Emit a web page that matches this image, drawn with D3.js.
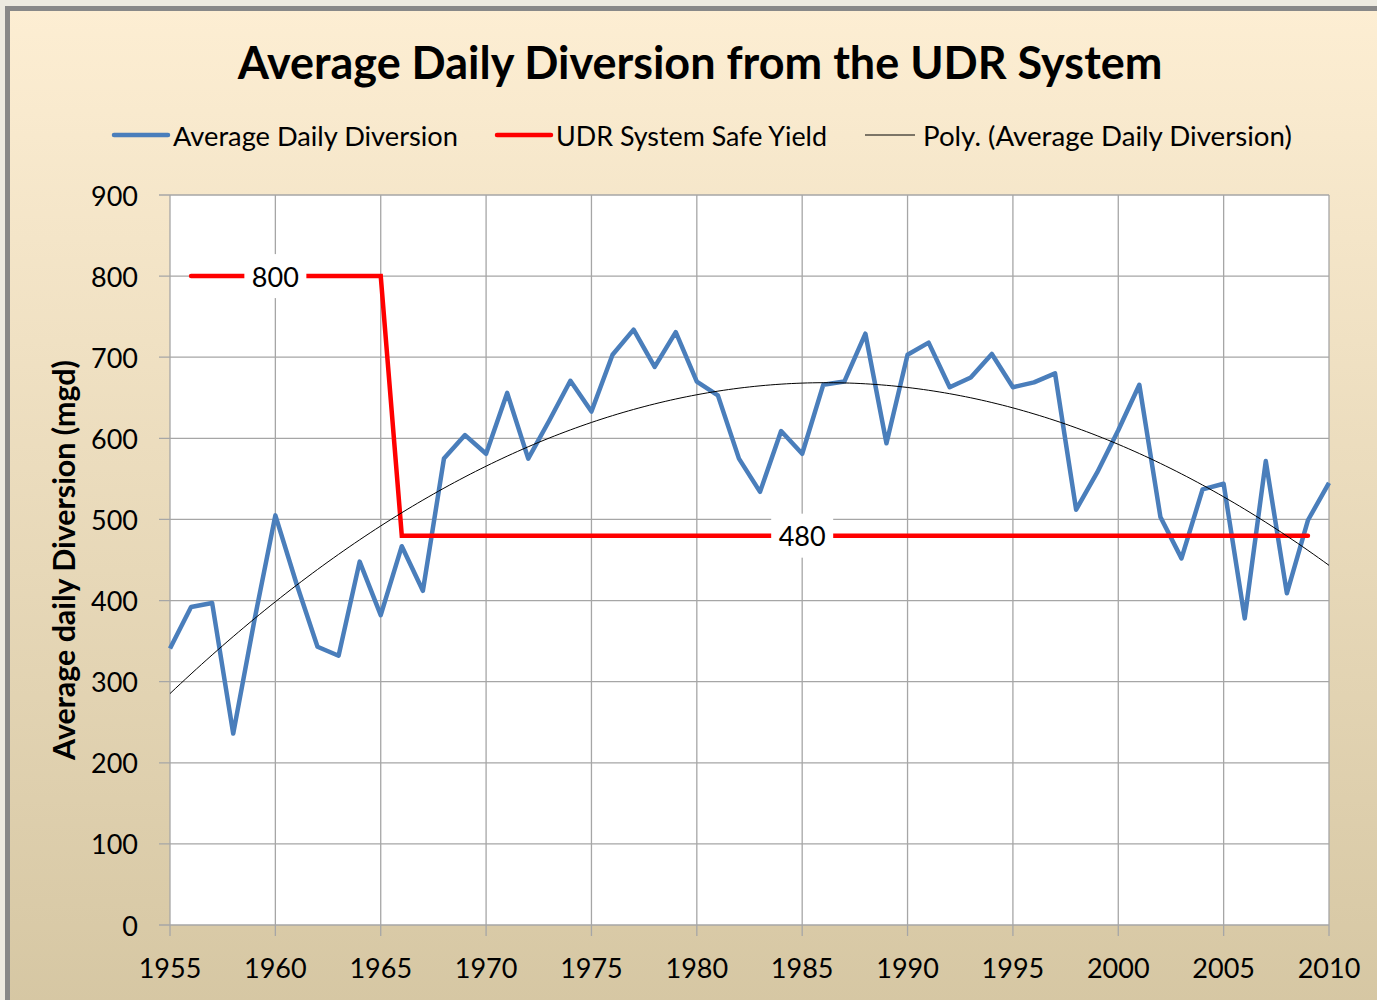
<!DOCTYPE html>
<html>
<head>
<meta charset="utf-8">
<script src="https://cdn.jsdelivr.net/npm/d3@7"></script>
<style>
  body { margin: 0; background: #edeae0; }
  svg { display: block; font-family: Lato, "Open Sans", sans-serif; }
</style>
</head>
<body>
<div id="chart"></div>
<script>
// Chart data
const years = [1955, 1956, 1957, 1958, 1959, 1960, 1961, 1962, 1963, 1964,
  1965, 1966, 1967, 1968, 1969, 1970, 1971, 1972, 1973, 1974,
  1975, 1976, 1977, 1978, 1979, 1980, 1981, 1982, 1983, 1984,
  1985, 1986, 1987, 1988, 1989, 1990, 1991, 1992, 1993, 1994,
  1995, 1996, 1997, 1998, 1999, 2000, 2001, 2002, 2003, 2004,
  2005, 2006, 2007, 2008, 2009, 2010];
const diversion = [341, 392, 397, 236, 375, 505, 421, 343, 332, 448,
  382, 467, 412, 575, 604, 581, 656, 575, 622, 671,
  633, 703, 734, 688, 731, 670, 653, 575, 534, 609,
  581, 666, 670, 729, 594, 703, 718, 663, 675, 704,
  663, 669, 680, 512, 558, 610, 666, 503, 452, 537,
  544, 378, 572, 409, 499, 545];
// safe yield breakpoints (year, mgd)
const safeYears = [1956, 1965, 1966, 2009];
const safeYield = [800, 800, 480, 480];
const yieldLabelYears = [1960, 1985];
const yieldLabels = ["800", "480"];
const xTicks = [1955, 1960, 1965, 1970, 1975, 1980, 1985, 1990, 1995, 2000, 2005, 2010];
const yTicks = [0, 100, 200, 300, 400, 500, 600, 700, 800, 900];
const legendNames = ["Average Daily Diversion", "UDR System Safe Yield", "Poly. (Average Daily Diversion)"];

const width = 1377;
const height = 1000;
const plot = { left: 170, right: 1329, top: 195, bottom: 925 };

const svg = d3.select("#chart").append("svg")
  .attr("width", width)
  .attr("height", height);

// Background gradient
const grad = svg.append("defs").append("linearGradient")
  .attr("id", "bg")
  .attr("x1", 0).attr("y1", 0).attr("x2", 0).attr("y2", 1);
grad.append("stop").attr("offset", "0%").attr("stop-color", "#fdeed3");
grad.append("stop").attr("offset", "100%").attr("stop-color", "#d5c6a2");

svg.append("rect")
  .attr("x", 0).attr("y", 0)
  .attr("width", width).attr("height", height)
  .attr("fill", "#edeae0");

svg.append("rect")
  .attr("x", 7.5).attr("y", 8.5)
  .attr("width", width + 20).attr("height", height + 20)
  .attr("fill", "url(#bg)")
  .attr("stroke", "#888888")
  .attr("stroke-width", 5);

// Plot area
svg.append("rect")
  .attr("x", plot.left).attr("y", plot.top)
  .attr("width", plot.right - plot.left)
  .attr("height", plot.bottom - plot.top)
  .attr("fill", "#ffffff");

const x = d3.scaleLinear().domain([1955, 2010]).range([plot.left, plot.right]);
const y = d3.scaleLinear().domain([0, 900]).range([plot.bottom, plot.top]);

// Grid lines
svg.append("g")
  .selectAll("line")
  .data(yTicks)
  .join("line")
  .attr("x1", plot.left - 11).attr("x2", plot.right)
  .attr("y1", d => y(d)).attr("y2", d => y(d))
  .attr("stroke", "#a6a6a6")
  .attr("stroke-width", 1.3);

svg.append("g")
  .selectAll("line")
  .data(xTicks)
  .join("line")
  .attr("x1", d => x(d)).attr("x2", d => x(d))
  .attr("y1", plot.top).attr("y2", plot.bottom + 11)
  .attr("stroke", "#a6a6a6")
  .attr("stroke-width", 1.3);

// Axis labels
svg.append("g")
  .selectAll("text")
  .data(yTicks)
  .join("text")
  .attr("x", 138)
  .attr("y", d => y(d))
  .attr("text-anchor", "end")
  .attr("dominant-baseline", "central")
  .attr("font-size", "27px")
  .attr("fill", "#000")
  .text(d => d);

svg.append("g")
  .selectAll("text")
  .data(xTicks)
  .join("text")
  .attr("x", d => x(d))
  .attr("y", 967)
  .attr("text-anchor", "middle")
  .attr("dominant-baseline", "central")
  .attr("font-size", "27px")
  .attr("fill", "#000")
  .text(d => d);

// Fit text to a target width by scaling the font size
function fitText(sel, target) {
  const size = parseFloat(sel.attr("font-size"));
  const len = sel.node().getComputedTextLength();
  sel.attr("font-size", (size * target / len).toFixed(2) + "px");
}

svg.append("text")
  .attr("transform", "translate(63,560) rotate(-90)")
  .attr("text-anchor", "middle")
  .attr("dominant-baseline", "central")
  .attr("font-size", "26px")
  .attr("font-weight", "bold")
  .text("Average daily Diversion (mgd)")
  .call(fitText, 400);

// Title
svg.append("text")
  .attr("x", 700)
  .attr("y", 62)
  .attr("text-anchor", "middle")
  .attr("dominant-baseline", "central")
  .attr("font-size", "40px")
  .attr("font-weight", "bold")
  .text("Average Daily Diversion from the UDR System")
  .call(fitText, 925);

// Trendline: polynomial (order 2) least squares fit on the series index
function polyFit(vals) {
  const n = vals.length;
  let s = [0, 0, 0, 0, 0], t = [0, 0, 0];
  vals.forEach((v, i) => {
    const xi = i + 1;
    for (let k = 0; k < 5; k++) s[k] += Math.pow(xi, k);
    for (let k = 0; k < 3; k++) t[k] += v * Math.pow(xi, k);
  });
  const m = [[s[0], s[1], s[2], t[0]], [s[1], s[2], s[3], t[1]], [s[2], s[3], s[4], t[2]]];
  for (let i = 0; i < 3; i++) {
    for (let j = i + 1; j < 3; j++) {
      const f = m[j][i] / m[i][i];
      for (let k = i; k < 4; k++) m[j][k] -= f * m[i][k];
    }
  }
  const c = [0, 0, 0];
  for (let i = 2; i >= 0; i--) {
    let sum = m[i][3];
    for (let k = i + 1; k < 3; k++) sum -= m[i][k] * c[k];
    c[i] = sum / m[i][i];
  }
  return xi => c[0] + c[1] * xi + c[2] * xi * xi;
}
const trend = polyFit(diversion);
const trendPts = d3.range(0, years.length - 1 + 0.001, 0.25)
  .map(i => [years[0] + i, trend(i + 1)]);

const line = d3.line().x(d => x(d[0])).y(d => y(d[1]));

// Series lines
svg.append("path")
  .datum(years.map((yr, i) => [yr, diversion[i]]))
  .attr("d", line)
  .attr("fill", "none")
  .attr("stroke", "#4a7ebb")
  .attr("stroke-width", 4.5)
  .attr("stroke-linejoin", "round");

svg.append("path")
  .datum(safeYears.map((yr, i) => [yr, safeYield[i]]))
  .attr("d", line)
  .attr("fill", "none")
  .attr("stroke", "#ff0000")
  .attr("stroke-width", 4.5)
  .attr("stroke-linecap", "round");

svg.append("path")
  .datum(trendPts)
  .attr("d", line)
  .attr("fill", "none")
  .attr("stroke", "#000000")
  .attr("stroke-width", 1);

// Data labels on the safe yield line
yieldLabelYears.forEach((yr, i) => {
  const v = i === 0 ? 800 : 480;
  const cx = x(yr), cy = y(v);
  svg.append("rect")
    .attr("x", cx - 31).attr("y", cy - 22)
    .attr("width", 62).attr("height", 44)
    .attr("fill", "#ffffff");
  svg.append("text")
    .attr("x", cx).attr("y", cy)
    .attr("text-anchor", "middle")
    .attr("dominant-baseline", "central")
    .attr("font-size", "27px")
    .text(yieldLabels[i]);
});

// Legend
const legend = [
  { x1: 114, x2: 168, tx: 173, w: 285, color: "#4a7ebb", sw: 4.5 },
  { x1: 497, x2: 551, tx: 556, w: 271, color: "#ff0000", sw: 4.5 },
  { x1: 865, x2: 915, tx: 923, w: 369, color: "#000000", sw: 1 }
];
legend.forEach((d, i) => {
  svg.append("line")
    .attr("x1", d.x1).attr("x2", d.x2)
    .attr("y1", 135).attr("y2", 135)
    .attr("stroke", d.color)
    .attr("stroke-width", d.sw)
    .attr("stroke-linecap", d.sw > 2 ? "round" : "butt");
  svg.append("text")
    .attr("x", d.tx).attr("y", 135)
    .attr("dominant-baseline", "central")
    .attr("font-size", "25px")
    .text(legendNames[i])
    .call(fitText, d.w);
});
</script>
</body>
</html>
